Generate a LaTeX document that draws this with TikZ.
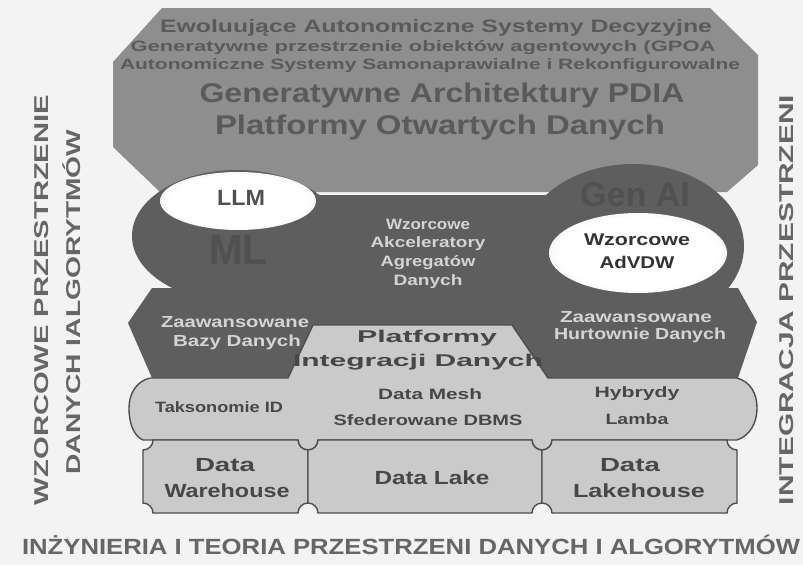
\documentclass[tikz,border=0pt]{standalone}
\usepackage{fontspec}
\setmainfont{Liberation Sans}
\usepackage{graphicx}
\definecolor{paper}{HTML}{F3F3F3}
\definecolor{topg}{HTML}{8E8E8E}
\definecolor{topt}{HTML}{5A5A5A}
\definecolor{darkg}{HTML}{5E5E5E}
\definecolor{darkt}{HTML}{505050}
\definecolor{lightg}{HTML}{CACACA}
\definecolor{edge}{HTML}{4E4E4E}
\definecolor{ink}{HTML}{474747}
\definecolor{paletxt}{HTML}{D4D4D4}
\definecolor{sidet}{HTML}{666666}
\definecolor{glowmid}{HTML}{DCDCDC}
\definecolor{glowout}{HTML}{8C8C8C}
\pgfdeclareradialshading{glow}{\pgfpoint{0bp}{0bp}}{color(0bp)=(white); color(22bp)=(white); color(38bp)=(glowmid); color(50bp)=(glowout)}
\newlength\fitlen
\newcommand\fitw[2]{\settowidth\fitlen{#2}\pgfmathsetmacro\fitratio{#1/\fitlen}\scalebox{\fitratio}[1]{#2}}
\newcommand\fs[1]{\fontsize{#1}{#1}\selectfont\bfseries}
\newcommand\ticket[5]{({#1+#5},#2) -- ({#3-#5},#2) arc[start angle=180,end angle=90,radius=#5] -- (#3,{#4-#5}) arc[start angle=270,end angle=180,radius=#5] -- ({#1+#5},#4) arc[start angle=0,end angle=-90,radius=#5] -- (#1,{#2+#5}) arc[start angle=90,end angle=0,radius=#5] -- cycle}
\tikzset{
  txt/.style={inner sep=0pt, anchor=center},
  toptxt/.style={txt, text=topt},
  palet/.style={txt, text=paletxt},
  inkt/.style={txt, text=ink},
  sidetxt/.style={txt, text=sidet},
  boxline/.style={draw=edge, line width=1.4pt, fill=lightg},
}
\begin{document}
\begin{tikzpicture}[x=1pt,y=-1pt]
\fill[paper] (0,0) rectangle (803,565);
\useasboundingbox (0,0) rectangle (803,565);

% top shape
\fill[topg] (162,8) -- (710,8) -- (758,55) -- (758,165) -- (727,192) -- (160,192) -- (113,147) -- (113,62) -- cycle;

% dark middle
\fill[darkg] (237,236) ellipse [x radius=105, y radius=66];
\fill[darkg] (300,195) rectangle (560,378);
\fill[darkg] (633,246) ellipse [x radius=111, y radius=82];
\fill[darkg] (152,288) -- (738,288) -- (757,322) -- (738,378) -- (152,378) -- (128,323) -- cycle;

% highlights
\shade[shading=glow] (238,201) ellipse [x radius=78, y radius=29];
\shade[shading=glow] (638,253) ellipse [x radius=89, y radius=40];

% light band
\path[boxline] (150,378) -- (288,378) -- (313,325) -- (512,325) -- (548,378) -- (737,378)
  .. controls (751,382) and (757,394) .. (757,408)
  .. controls (757,424) and (749,436) .. (737,440)
  -- (552,440) arc[start angle=0,end angle=180,radius=10]
  -- (318,440) arc[start angle=0,end angle=180,radius=10]
  -- (143,440)
  .. controls (134,436) and (129,424) .. (129,408)
  .. controls (129,393) and (137,381) .. (150,378) -- cycle;

% bottom boxes
\path[boxline] \ticket{143}{440}{308}{513}{10};
\path[boxline] \ticket{308}{440}{542}{513}{10};
\path[boxline] \ticket{542}{440}{737}{513}{10};

% top texts
\node[toptxt] (t1) at (436,28) {\fitw{552}{\fs{18}Ewoluujące Autonomiczne Systemy Decyzyjne}};
\node[toptxt] (t2) at (423,48) {\fitw{585}{\fs{15}Generatywne przestrzenie obiektów agentowych (GPOA}};
\node[toptxt] (t3) at (430,66) {\fitw{620}{\fs{15}Autonomiczne Systemy Samonaprawialne i Rekonfigurowalne}};
\node[toptxt] (t4) at (442,96) {\fitw{485}{\fs{27}Generatywne Architektury PDIA}};
\node[toptxt] (t5) at (440,128) {\fitw{450}{\fs{27}Platformy Otwartych Danych}};

% cylinders
\node[txt, text=darkt] (llm) at (241,198) {\fitw{48}{\fs{22}LLM}};
\node[txt, text=darkt] (ml) at (238,250) {\fitw{58}{\fs{42}ML}};
\node[txt, text=darkt] (genai) at (635,195) {\fitw{110}{\fs{34}Gen AI}};
\node[txt, text=black!80] (wz2) at (637,240) {\fitw{106}{\fs{17}Wzorcowe}};
\node[txt, text=black!80] (adv) at (637,262) {\fitw{75}{\fs{17}AdVDW}};

% center column
\node[palet] (c1) at (428,224) {\fitw{84}{\fs{15}Wzorcowe}};
\node[palet] (c2) at (428,244) {\fitw{115}{\fs{15}Akceleratory}};
\node[palet] (c3) at (428,263) {\fitw{95}{\fs{15}Agregatów}};
\node[palet] (c4) at (428,282) {\fitw{69}{\fs{15}Danych}};

% hexagon texts
\node[palet] (zb1) at (235,322) {\fitw{148}{\fs{16}Zaawansowane}};
\node[palet] (zb2) at (237,342) {\fitw{128}{\fs{16}Bazy Danych}};
\node[palet] (zh1) at (636,317) {\fitw{152}{\fs{16}Zaawansowane}};
\node[palet] (zh2) at (640,335) {\fitw{172}{\fs{16}Hurtownie Danych}};

% platform
\node[inkt] (p1) at (427,338) {\fitw{140}{\fs{17}Platformy}};
\node[inkt] (p2) at (418,362) {\fitw{250}{\fs{17}Integracji Danych}};

% band texts
\node[inkt] (tax) at (219,407) {\fitw{128}{\fs{15}Taksonomie ID}};
\node[inkt] (dm) at (430,394) {\fitw{104}{\fs{15}Data Mesh}};
\node[inkt] (sf) at (428,420) {\fitw{189}{\fs{15}Sfederowane DBMS}};
\node[inkt] (hy) at (637,394) {\fitw{85}{\fs{15}Hybrydy}};
\node[inkt] (la) at (637,419) {\fitw{63}{\fs{15}Lamba}};

% box texts
\node[inkt] (dw1) at (225,465) {\fitw{60}{\fs{19}Data}};
\node[inkt] (dw2) at (227,491) {\fitw{125}{\fs{19}Warehouse}};
\node[inkt] (dl) at (432,478) {\fitw{115}{\fs{19}Data Lake}};
\node[inkt] (dh1) at (630,465) {\fitw{60}{\fs{19}Data}};
\node[inkt] (dh2) at (639,491) {\fitw{132}{\fs{19}Lakehouse}};

% side texts
\node[sidetxt, rotate=90] (l1) at (42,300) {\fitw{410}{\fs{20}WZORCOWE PRZESTRZENIE}};
\node[sidetxt, rotate=90] (l2) at (72,302) {\fitw{345}{\fs{20}DANYCH IALGORYTMÓW}};
\node[sidetxt, rotate=90] (r1) at (787,300) {\fitw{410}{\fs{20}INTEGRACJA PRZESTRZENI}};
\node[sidetxt] (bt) at (411,545) {\fitw{778}{\fs{22}INŻYNIERIA I TEORIA PRZESTRZENI DANYCH I ALGORYTMÓW}};
\end{tikzpicture}
\end{document}
